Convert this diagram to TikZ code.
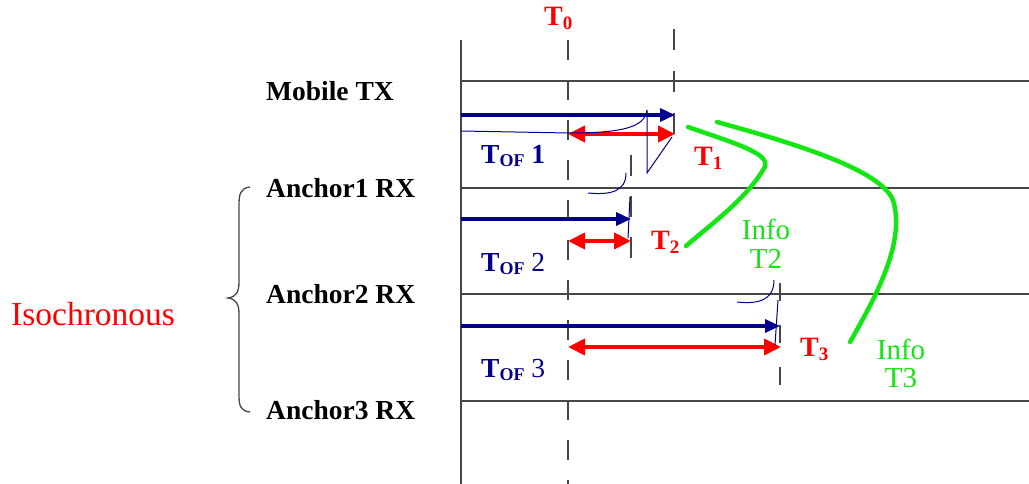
\documentclass[tikz,border=0pt]{standalone}
\usepackage{fontspec}
\setmainfont{Liberation Serif}
\usetikzlibrary{arrows.meta}
\definecolor{navy}{RGB}{0,0,140}
\definecolor{lgreen}{RGB}{20,230,20}
\definecolor{gline}{RGB}{70,70,70}
\begin{document}
\begin{tikzpicture}[x=1pt,y=-1pt,
  axis/.style={draw=gline,line width=1.6pt},
  tline/.style={draw=gline,line width=1.6pt,dash pattern=on 20pt off 20pt},
  navyarrow/.style={draw=navy,line width=3.5pt,-{Triangle[length=15pt,width=13pt]}},
  redarrow/.style={draw=red,line width=4pt,{Triangle[length=17pt,width=16pt]}-{Triangle[length=17pt,width=16pt]}},
  scribble/.style={draw=navy,line width=1pt},
  greencurve/.style={draw=lgreen,line width=4.5pt,line cap=round},
  lab/.style={font=\fontsize{27.5}{30}\selectfont\bfseries,anchor=base west,inner sep=0pt},
  redlab/.style={font=\fontsize{28}{30}\selectfont\bfseries,text=red,anchor=base west,inner sep=0pt},
  toflab/.style={font=\fontsize{27.5}{30}\selectfont\bfseries,text=navy,anchor=base west,inner sep=0pt},
  infolab/.style={font=\fontsize{29}{30}\selectfont,text=lgreen,anchor=base,inner sep=0pt}]
\useasboundingbox[fill=white] (0,0) rectangle (1029,484);
% axis and row lines
\coordinate (ytop) at (461,40);
\coordinate (ybot) at (461,484);
\draw[axis] (ytop) -- (ybot);
\foreach \y/\n in {81/r0,188/r1,294/r2,401/r3}{
  \coordinate (\n a) at (461,\y);
  \coordinate (\n b) at (1029,\y);
  \draw[axis] (\n a) -- (\n b);
}
% time lines
\coordinate (t0a) at (568,40); \coordinate (t0b) at (568,484);
\draw[tline,dash phase=0pt] (t0a) -- (t0b);
\coordinate (t1a) at (674,29); \coordinate (t1b) at (674,134);
\draw[tline,dash pattern=on 21pt off 21pt] (t1a) -- (t1b);
\coordinate (t2a) at (631,155); \coordinate (t2b) at (631,261);
\draw[tline,dash pattern=on 21pt off 20pt] (t2a) -- (t2b);
\coordinate (t3a) at (780,283); \coordinate (t3b) at (780,389);
\draw[tline,dash pattern=on 18pt off 24pt] (t3a) -- (t3b);
% navy arrows
\coordinate (n1a) at (461,115); \coordinate (n1b) at (675,115);
\coordinate (n2a) at (461,219); \coordinate (n2b) at (631,219);
\coordinate (n3a) at (461,326); \coordinate (n3b) at (780,326);
\draw[navyarrow] (n1a) -- (n1b);
\draw[navyarrow] (n2a) -- (n2b);
\draw[navyarrow] (n3a) -- (n3b);
% red double arrows
\coordinate (d1a) at (568,134); \coordinate (d1b) at (675,134);
\coordinate (d2a) at (568,241); \coordinate (d2b) at (631,241);
\coordinate (d3a) at (568,347); \coordinate (d3b) at (781,347);
\draw[redarrow] (d1a) -- (d1b);
\draw[redarrow] (d2a) -- (d2b);
\draw[redarrow] (d3a) -- (d3b);
% handwritten navy scribbles
\draw[scribble] (461,131) -- (568,133) .. controls (620,133) and (645,128) .. (647,110)
  -- (647,173) -- (672,137);
\draw[scribble] (588,193) .. controls (610,195) and (626,192) .. (626,173);
\draw[scribble] (630,197) -- (628,238);
\draw[scribble] (737,302) .. controls (755,304) and (774,302) .. (774,280);
\draw[scribble] (778,300) -- (775,345);
% green curves
\coordinate (g1a) at (688,127); \coordinate (g1b) at (686,246);
\draw[greencurve] (g1a) .. controls (740,145) and (775,155) .. (763,170)
  .. controls (745,200) and (710,225) .. (g1b);
\coordinate (g2a) at (717,122); \coordinate (g2b) at (850,342);
\draw[greencurve] (g2a) .. controls (800,145) and (880,170) .. (893,200)
  .. controls (905,240) and (880,290) .. (g2b);
% brace
\coordinate (br1) at (250,187); \coordinate (br2) at (250,412); \coordinate (brt) at (228,298);
\draw[draw=gline,line width=1.3pt] (br1) .. controls (240,188) and (239,195) .. (239,205)
  -- (239,282) .. controls (239,292) and (236,297) .. (brt)
  .. controls (236,299) and (239,304) .. (239,314)
  -- (239,395) .. controls (239,405) and (240,411) .. (br2);
% labels
\node[lab] (mtx) at (266,101) {Mobile TX};
\node[lab] (a1) at (266,197) {Anchor1 RX};
\node[lab] (a2) at (266,303) {Anchor2 RX};
\node[lab] (a3) at (266,419) {Anchor3 RX};
\node[font=\fontsize{33.5}{34}\selectfont,text=red,anchor=base west,inner sep=0pt] (iso) at (11,325) {Isochronous};
\node[redlab] (T0) at (544,26) {T\raisebox{-4pt}{\fontsize{19}{19}\selectfont 0}};
\node[redlab] (T1) at (694,166) {T\raisebox{-4pt}{\fontsize{19}{19}\selectfont 1}};
\node[redlab] (T2) at (651,250) {T\raisebox{-4pt}{\fontsize{19}{19}\selectfont 2}};
\node[redlab] (T3) at (800,356) {T\raisebox{-4pt}{\fontsize{19}{19}\selectfont 3}};
\node[toflab] (tof1) at (481,164) {T\raisebox{-3pt}{\fontsize{18}{18}\selectfont OF} 1};
\node[toflab] (tof2) at (481,271) {T\raisebox{-3pt}{\fontsize{18}{18}\selectfont OF} \mdseries 2};
\node[toflab] (tof3) at (481,377) {T\raisebox{-3pt}{\fontsize{18}{18}\selectfont OF} \mdseries 3};
\node[infolab] (i2a) at (766,240) {Info};
\node[infolab] (i2b) at (766,268) {T2};
\node[infolab] (i3a) at (901,359) {Info};
\node[infolab] (i3b) at (901,387) {T3};
\end{tikzpicture}
\end{document}
